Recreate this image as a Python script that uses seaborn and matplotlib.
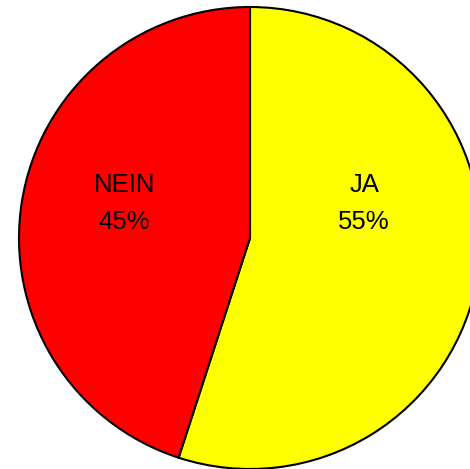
import seaborn as sns
import matplotlib.pyplot as plt

# data
labels = ['JA', 'NEIN']
values = [55, 45]
colors = ['#FFFF00', '#FF0000']

sns.set_style('white')
plt.rcParams['font.family'] = ['Liberation Sans', 'DejaVu Sans']

fig = plt.figure(figsize=(4.70, 4.69), dpi=100)
# axes sized so the pie centre sits at (250, 238) px with radius 231 px
ax = fig.add_axes([19/470, 0/469, 462/470, 462/469])

wedges, _ = ax.pie(values, colors=colors, startangle=90, counterclock=False,
                   wedgeprops=dict(edgecolor='black', linewidth=1.5))
ax.set_xlim(-1, 1)
ax.set_ylim(-1, 1)
ax.axis('off')

# label positions
label_pos = [(0.494, 0.15), (-0.543, 0.15)]
for lab, v, (x, y) in zip(labels, values, label_pos):
    ax.text(x, y, f'{lab}\n{v}%', ha='center', va='center', fontsize=18.5,
            linespacing=1.65, color='black')

fig.savefig('out.png', dpi=100)
